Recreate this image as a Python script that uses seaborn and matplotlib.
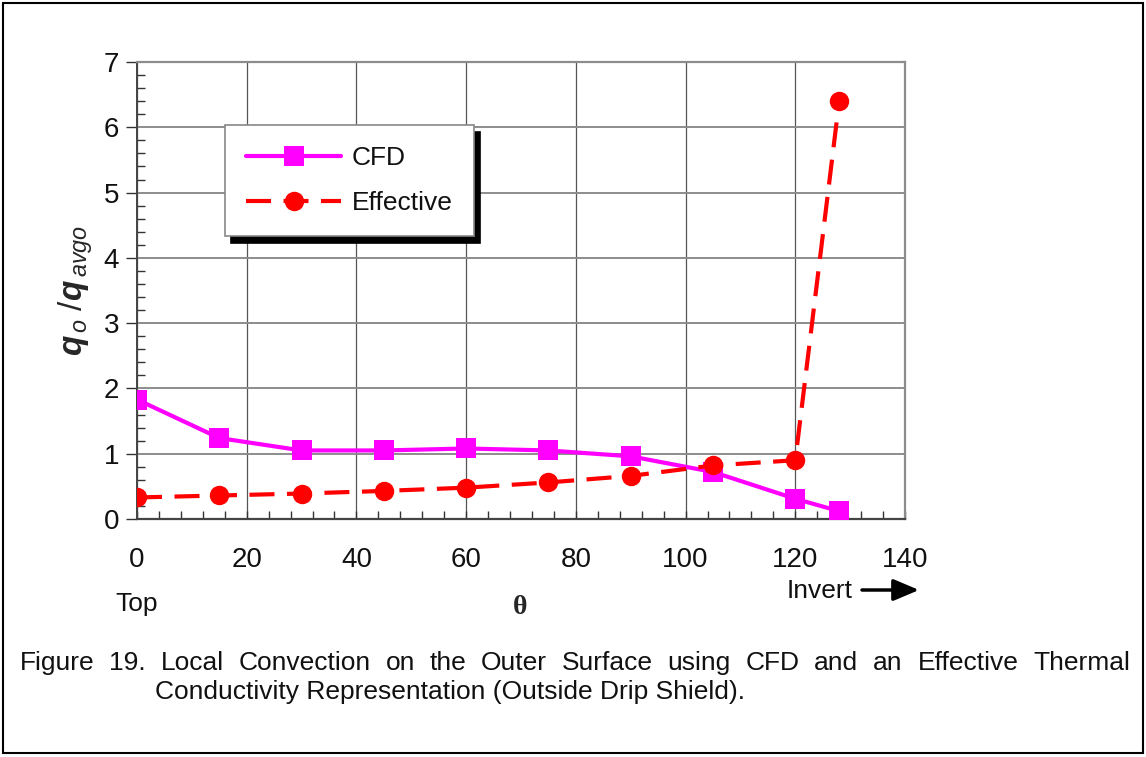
import matplotlib
matplotlib.use("Agg")
import matplotlib.pyplot as plt
import seaborn as sns
import pandas as pd
from matplotlib.patches import Rectangle
from matplotlib.ticker import MultipleLocator

# ---- data ----
theta = [0, 15, 30, 45, 60, 75, 90, 105, 120, 128]
cfd = [1.83, 1.24, 1.05, 1.05, 1.08, 1.05, 0.96, 0.72, 0.31, 0.12]
effective = [0.33, 0.36, 0.39, 0.43, 0.48, 0.56, 0.66, 0.82, 0.90, 6.40]
series_names = ["CFD", "Effective"]
x_ticks = [0, 20, 40, 60, 80, 100, 120, 140]
y_ticks = [0, 1, 2, 3, 4, 5, 6, 7]
caption_line1 = "Figure 19. Local Convection on the Outer Surface using CFD and an Effective Thermal"
caption_line2 = "Conductivity Representation (Outside Drip Shield)."

sns.set_theme(style="white")
plt.rcParams["font.family"] = ["Liberation Sans", "DejaVu Sans"]
plt.rcParams["mathtext.fontset"] = "custom"
plt.rcParams["mathtext.it"] = "Liberation Sans:italic:bold"
plt.rcParams["mathtext.rm"] = "Liberation Sans"
plt.rcParams["mathtext.sf"] = "Liberation Sans:italic"

W, H = 1146, 757
fig = plt.figure(figsize=(W / 100, H / 100), dpi=100)
fig.patch.set_facecolor("white")
ax = fig.add_axes([137 / W, 1 - 519 / H, (905 - 137) / W, (519 - 62) / H])

df = pd.DataFrame({"theta": theta, series_names[0]: cfd, series_names[1]: effective})

sns.lineplot(data=df, x="theta", y=series_names[0], ax=ax, color="#ff00ff", lw=3,
             marker="s", markersize=14, markeredgewidth=0, label=series_names[0], zorder=4)
sns.lineplot(data=df, x="theta", y=series_names[1], ax=ax, color="#ff0000", lw=3,
             marker="o", markersize=14, markeredgewidth=0, label=series_names[1], zorder=5)
ax.lines[1].set_dashes((6, 3))

ax.set_xlim(0, 140)
ax.set_ylim(0, 7)
ax.set_xticks(x_ticks)
ax.set_yticks(y_ticks)
ax.xaxis.set_minor_locator(MultipleLocator(4))
ax.yaxis.set_minor_locator(MultipleLocator(0.2))
ax.tick_params(bottom=True, left=True, which="both")
ax.tick_params(axis="both", which="major", labelsize=20, length=8, width=1, color="#333333",
               direction="out", pad=5)
ax.tick_params(axis="both", which="minor", length=6, width=1, color="#333333", direction="in")
ax.tick_params(axis="x", which="major", direction="in", length=6, pad=20)
for lab in ax.get_xticklabels() + ax.get_yticklabels():
    lab.set_color("#111111")

ax.grid(True, axis="x", which="major", color="#555555", lw=0.9)
ax.grid(True, axis="y", which="major", color="#8c8c8c", lw=1.4)
ax.set_axisbelow(True)
for side in ["top", "right"]:
    ax.spines[side].set_color("#8c8c8c")
    ax.spines[side].set_linewidth(1.6)
ax.spines["left"].set_color("#444444")
ax.spines["left"].set_linewidth(1.4)
ax.spines["bottom"].set_color("#444444")
ax.spines["bottom"].set_linewidth(1.6)

ax.set_xlabel("")
ax.set_ylabel(r"$q_{\,\mathsf{o}}\;/q_{\,\mathsf{avgo}}$", fontsize=24, labelpad=6)

leg = ax.legend(loc="upper left", bbox_to_anchor=(0.115, 0.862), fontsize=19,
                frameon=True, fancybox=False, edgecolor="#888888", framealpha=1,
                handlelength=3.6, handletextpad=0.4, borderpad=0.8, labelspacing=0.8,
                borderaxespad=0, shadow={"color": "black", "alpha": 1, "ox": 4, "oy": -5})
leg.get_frame().set_linewidth(1.2)
for t in leg.get_texts():
    t.set_color("#111111")

# axis annotations
fig.text(137 / W, 1 - 604 / H, "Top", fontsize=19, ha="center", va="center", color="#111111")
fig.text(520 / W, 1 - 607 / H, "θ", fontsize=20, fontweight="bold", family="Liberation Serif",
         ha="center", va="center")
fig.text(853 / W, 1 - 591 / H, "Invert", fontsize=19, ha="right", va="center", color="#111111")
ax.annotate("", xy=(919, H - 590), xytext=(862, H - 590),
            xycoords="figure pixels", textcoords="figure pixels",
            arrowprops=dict(arrowstyle="-|>,head_length=1.3,head_width=0.55", color="black",
                            lw=2.5, shrinkA=0, shrinkB=0))

# caption: first line justified between x=20 and x=1130
fig.canvas.draw()
renderer = fig.canvas.get_renderer()
words = caption_line1.split(" ")
tobjs = [fig.text(0, 1 - 663 / H, w_, fontsize=19, ha="left", va="center", color="#111111")
         for w_ in words]
widths = [t.get_window_extent(renderer).width for t in tobjs]
gap = (1130 - 20 - sum(widths)) / (len(words) - 1)
xpos = 20.0
for t, wdt in zip(tobjs, widths):
    t.set_x(xpos / W)
    xpos += wdt + gap
fig.text(155 / W, 1 - 692 / H, caption_line2, fontsize=19, ha="left", va="center",
         color="#111111")

# outer frame
fig.patches.append(Rectangle((3 / W, 4 / H), 1140 / W, 750 / H, transform=fig.transFigure,
                             fill=False, edgecolor="black", lw=1.5))

fig.savefig("out.png", dpi=100)
